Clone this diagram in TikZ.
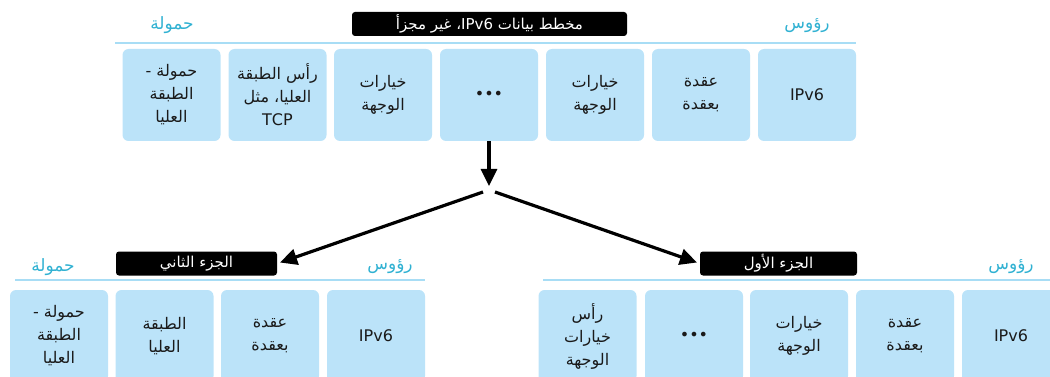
\documentclass[tikz,border=0pt]{standalone}
\usepackage{fontspec}
\setmainfont{DejaVu Sans}
\newfontfamily\arabicfont[Script=Arabic]{DejaVu Sans}
\TeXXeTstate=1
\usetikzlibrary{arrows.meta}
\definecolor{cellblue}{HTML}{BBE3F9}
\definecolor{linecol}{HTML}{A8DDF5}
\definecolor{cyanlbl}{HTML}{30B1D2}
\definecolor{txt}{HTML}{1A1A1A}
\newcommand\arl[1]{\beginR #1\endR}
\begin{document}
\begin{tikzpicture}[x=1pt,y=-1pt,
  cell/.style={fill=cellblue, rounded corners=6pt, minimum width=98pt, minimum height=92pt,
    inner sep=0pt, align=center, text=txt, font=\arabicfont\fontsize{16}{23}\selectfont},
  tagbox/.style={fill=black, rounded corners=3pt, text=white, minimum height=24pt,
    inner sep=0pt, font=\arabicfont\fontsize{15}{16}\selectfont},
  lbl/.style={text=cyanlbl, inner sep=0pt, font=\arabicfont\fontsize{17}{18}\selectfont},
  sepline/.style={draw=linecol, line width=1.5pt},
  arr/.style={line width=3.2pt, -{Triangle[length=17pt,width=16pt]}}]
\useasboundingbox (0,0) rectangle (1050,377);
\clip (0,0) rectangle (1050,377);

% ---------- top: unfragmented datagram ----------
\node[tagbox, minimum width=275pt] (ttag) at (489.5,24) {\arl{مخطط بيانات \beginL IPv6\endL، غير مجزأ}};
\node[lbl] (tpay) at (172,25) {\arl{حمولة}};
\node[lbl] (thdr) at (807,26) {\arl{رؤوس}};
\coordinate (tl1) at (115,43);
\coordinate (tl2) at (856,43);
\draw[sepline] (tl1) -- (tl2);

\node[cell] (t1) at (171.5,95) {\arl{حمولة -}\\\arl{الطبقة}\\\arl{العليا}};
\node[cell] (t2) at (277.5,95) {\arl{رأس الطبقة}\\\arl{العليا، مثل}\\TCP};
\node[cell] (t3) at (383,95) {\arl{خيارات}\\\arl{الوجهة}};
\node[cell] (t4) at (489,95) {•••};
\node[cell] (t5) at (595,95) {\arl{خيارات}\\\arl{الوجهة}};
\node[cell] (t6) at (701,95) {\arl{عقدة}\\\arl{بعقدة}};
\node[cell] (t7) at (807,95) {IPv6};

% ---------- arrows ----------
\coordinate (vtip) at (489,186);
\coordinate (sl) at (483,192);
\coordinate (sr) at (495,192);
\draw[arr] (t4.south) -- (vtip);

% ---------- bottom left: second fragment ----------
\node[tagbox, minimum width=161pt] (p2) at (196.5,263.5) {\arl{الجزء الثاني}};
\node[lbl] (bpay) at (53,267) {\arl{حمولة}};
\node[lbl] (bhdr) at (390,267) {\arl{رؤوس}};
\coordinate (bl1) at (15,280);
\coordinate (bl2) at (425,280);
\draw[sepline] (bl1) -- (bl2);

\node[cell] (l1) at (59,336) {\arl{حمولة -}\\\arl{الطبقة}\\\arl{العليا}};
\node[cell] (l2) at (164.5,336) {\arl{الطبقة}\\\arl{العليا}};
\node[cell] (l3) at (270,336) {\arl{عقدة}\\\arl{بعقدة}};
\node[cell] (l4) at (376,336) {IPv6};

% ---------- bottom right: first fragment ----------
\node[tagbox, minimum width=157pt] (p1) at (778.5,263.5) {\arl{الجزء الأول}};
\node[lbl] (rhdr) at (1011,267) {\arl{رؤوس}};
\coordinate (br1) at (543,280);
\coordinate (br2) at (1050,280);
\draw[sepline] (br1) -- (br2);

\node[cell] (r1) at (587.5,336) {\arl{رأس}\\\arl{خيارات}\\\arl{الوجهة}};
\node[cell] (r2) at (694,336) {•••};
\node[cell] (r3) at (799,336) {\arl{خيارات}\\\arl{الوجهة}};
\node[cell] (r4) at (905,336) {\arl{عقدة}\\\arl{بعقدة}};
\node[cell] (r5) at (1011,336) {IPv6};

\draw[arr, shorten >=3pt] (sl) -- (p2.east);
\draw[arr, shorten >=3pt] (sr) -- (p1.west);
\end{tikzpicture}
\end{document}
